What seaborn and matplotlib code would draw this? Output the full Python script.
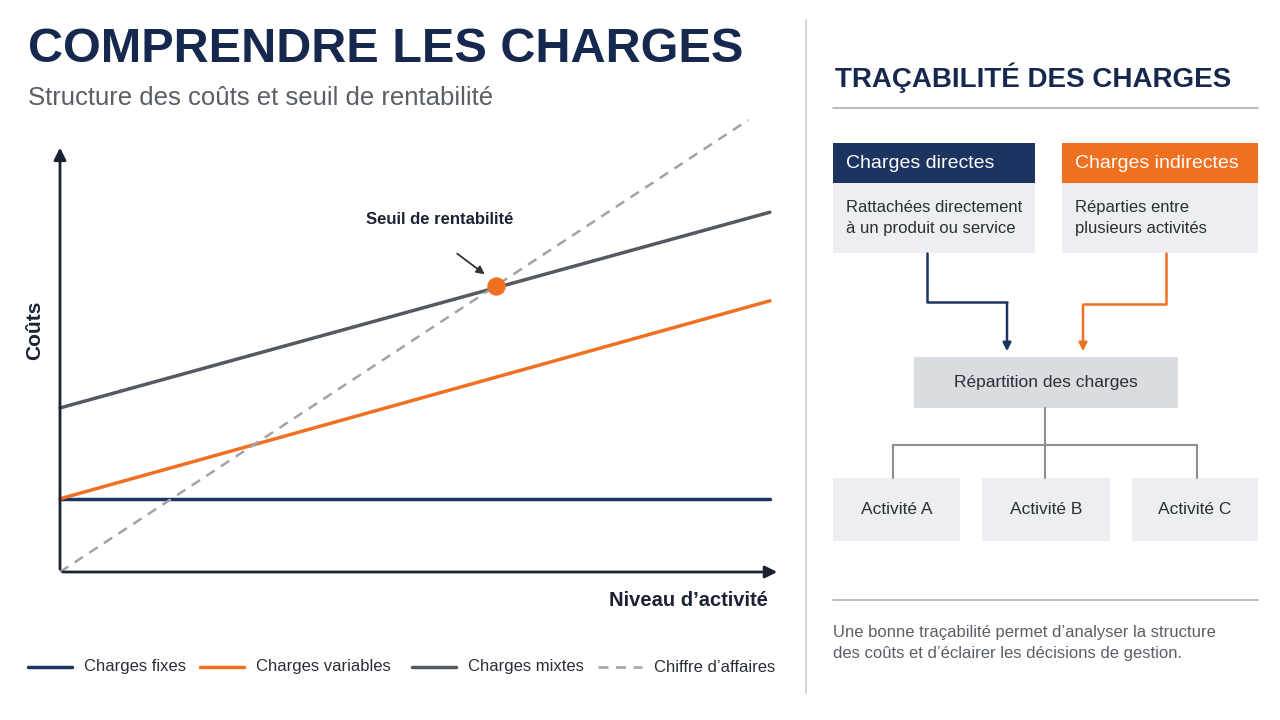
import matplotlib
matplotlib.use("Agg")
import matplotlib.pyplot as plt
import seaborn as sns
import pandas as pd
from matplotlib.patches import Rectangle

sns.set_theme(style="white")
plt.rcParams['font.family'] = ['Liberation Sans', 'DejaVu Sans']

# ---- data ----
activity = [0, 98.6]
fixed = [16.2, 16.2]
variable = [16.2, 60.0]
mixed = [36.3, 79.6]
revenue_x = [0, 95.6]
revenue_y = [0, 100.0]
breakeven = (60.6, 63.3)
legend_labels = ["Charges fixes", "Charges variables", "Charges mixtes", "Chiffre d’affaires"]
activities = ["Activité A", "Activité B", "Activité C"]

NAVY = "#1d3461"; ORANGE = "#f07022"; DGRAY = "#555a60"; LGRAY = "#a3a3a3"
BOX = "#eceef1"; BOX2 = "#d9dce1"; TXT = "#2a2f36"

fig = plt.figure(figsize=(12.8, 7.2), dpi=100)
fig.patch.set_facecolor("white")

bg = fig.add_axes([0, 0, 1, 1])
bg.set_xlim(0, 1280); bg.set_ylim(720, 0); bg.axis("off")

ax = fig.add_axes([60/1280, (720-572)/720, 720/1280, 452/720])
ax.set_xlim(0, 100); ax.set_ylim(0, 100)
ax.patch.set_alpha(0)
for s in ax.spines.values():
    s.set_visible(False)
ax.set_xticks([]); ax.set_yticks([])

df = pd.DataFrame({"x": activity, "fixed": fixed, "variable": variable, "mixed": mixed})
sns.lineplot(data=df, x="x", y="fixed", ax=ax, color=NAVY, lw=2.5)
sns.lineplot(data=df, x="x", y="variable", ax=ax, color=ORANGE, lw=2.5)
sns.lineplot(data=df, x="x", y="mixed", ax=ax, color=DGRAY, lw=2.5)
sns.lineplot(x=revenue_x, y=revenue_y, ax=ax, color=LGRAY, lw=1.8, linestyle=(0, (4, 3)))
for l in ax.lines:
    l.set_clip_on(False)
ax.scatter([breakeven[0]], [breakeven[1]], s=150, color=ORANGE, zorder=5, clip_on=False)
ax.set_xlabel(""); ax.set_ylabel("")
ax.annotate("", xy=(100, 0), xytext=(0, 0), annotation_clip=False,
            arrowprops=dict(arrowstyle="-|>", color="#1a2233", lw=2, mutation_scale=18))
ax.annotate("", xy=(0, 94.5), xytext=(0, 0), annotation_clip=False,
            arrowprops=dict(arrowstyle="-|>", color="#1a2233", lw=2, mutation_scale=18))

bg.text(28, 50, "COMPRENDRE LES CHARGES", fontsize=35, fontweight="bold", color="#16284d", va="center")
bg.text(28, 98, "Structure des coûts et seuil de rentabilité", fontsize=18.5, color="#5a5f66", va="center")
bg.text(35, 330, "Coûts", fontsize=15, fontweight="bold", color="#1a2233", rotation=90, ha="center", va="center")
bg.text(768, 600, "Niveau d’activité", fontsize=14.5, fontweight="bold", color="#1a2233", ha="right", va="center")
bg.text(440, 219, "Seuil de rentabilité", fontsize=12, fontweight="bold", color="#1a2233", ha="center", va="center")
bg.annotate("", xy=(487, 276), xytext=(455, 252),
            arrowprops=dict(arrowstyle="-|>", color="#333", lw=1.3))

leg = [(NAVY, "-"), (ORANGE, "-"), (DGRAY, "-"), (LGRAY, (0, (4, 3)))]
xs = [28, 200, 412, 598]
for (c, ls), x0, lab in zip(leg, xs, legend_labels):
    bg.plot([x0, x0+44], [667, 667], color=c, lw=2.5 if ls == "-" else 1.8, linestyle=ls)
    bg.text(x0+56, 667, lab, fontsize=12, color=TXT, va="center")

bg.plot([806, 806], [20, 693], color="#d0d0d0", lw=1.2)

bg.text(835, 78, "TRAÇABILITÉ DES CHARGES", fontsize=20, fontweight="bold", color="#16284d", va="center")
bg.plot([833, 1258], [108, 108], color="#b0b0b0", lw=1.2)

def rect(x0, y0, x1, y1, fc):
    bg.add_patch(Rectangle((x0, y0), x1-x0, y1-y0, facecolor=fc, edgecolor="none"))

rect(833, 143, 1035, 183, NAVY); rect(833, 183, 1035, 253, BOX)
rect(1062, 143, 1258, 183, ORANGE); rect(1062, 183, 1258, 253, BOX)
bg.text(846, 164, "Charges directes", fontsize=14, color="white", va="center")
bg.text(1075, 164, "Charges indirectes", fontsize=14, color="white", va="center")
bg.text(846, 218, "Rattachées directement\nà un produit ou service", fontsize=12, color=TXT, va="center", linespacing=1.5)
bg.text(1075, 218, "Réparties entre\nplusieurs activités", fontsize=12, color=TXT, va="center", linespacing=1.5)

bg.plot([927, 927, 1007], [253, 302, 302], color=NAVY, lw=1.8)
bg.annotate("", xy=(1007, 354), xytext=(1007, 301), arrowprops=dict(arrowstyle="-|>", color=NAVY, lw=1.8))
bg.plot([1166, 1166, 1083], [253, 304, 304], color=ORANGE, lw=1.8)
bg.annotate("", xy=(1083, 354), xytext=(1083, 303), arrowprops=dict(arrowstyle="-|>", color=ORANGE, lw=1.8))

rect(914, 357, 1178, 408, BOX2)
bg.text(1046, 383, "Répartition des charges", fontsize=12.5, color=TXT, ha="center", va="center")
bg.plot([1045, 1045], [408, 445], color="#8a8f96", lw=1.5)
bg.plot([893, 1197], [445, 445], color="#8a8f96", lw=1.5)
for xc in [893, 1045, 1197]:
    bg.plot([xc, xc], [445, 478], color="#8a8f96", lw=1.5)
for (x0, x1), lab in zip([(833, 960), (982, 1110), (1132, 1258)], activities):
    rect(x0, 478, x1, 541, BOX)
    bg.text((x0+x1)/2, 510, lab, fontsize=12.5, color=TXT, ha="center", va="center")

bg.plot([833, 1258], [600, 600], color="#b0b0b0", lw=1.2)
bg.text(833, 643, "Une bonne traçabilité permet d’analyser la structure\ndes coûts et d’éclairer les décisions de gestion.",
        fontsize=12, color="#5a5f66", va="center", linespacing=1.5)

fig.savefig("out.png", dpi=100)
